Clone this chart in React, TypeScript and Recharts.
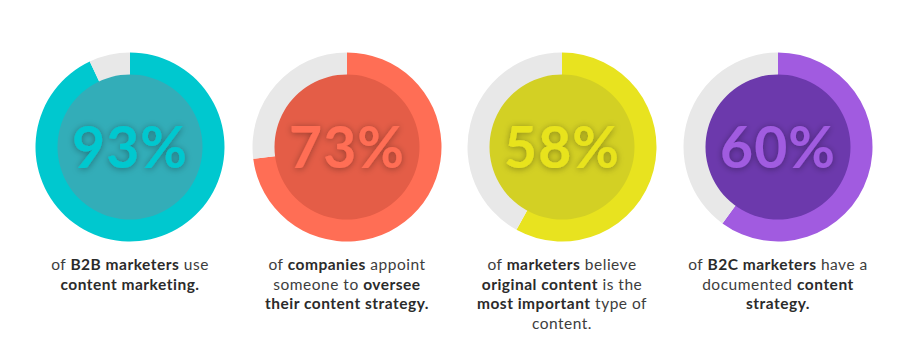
import React from "react";
import { PieChart, Pie, Cell } from "recharts";

const WIDTH = 916;
const HEIGHT = 352;

const percents = [93, 73, 58, 60];
const ringColors = ["#00C8CF", "#FF6E55", "#E8E31F", "#A15BE0"];
const discColors = ["#33ADB8", "#E45D47", "#D3D024", "#6C39AC"];
const restColor = "#E8E8E8";
const centersX = [130, 347, 562, 778];
const centerY = 147;

// caption lines: [text, bold]
const captions: [string, boolean][][][] = [
  [
    [["of ", false], ["B2B marketers", true], [" use", false]],
    [["content marketing.", true]],
  ],
  [
    [["of ", false], ["companies", true], [" appoint", false]],
    [["someone to ", false], ["oversee", true]],
    [["their content strategy.", true]],
  ],
  [
    [["of ", false], ["marketers", true], [" believe", false]],
    [["original content", true], [" is the", false]],
    [["most important", true], [" type of", false]],
    [["content.", false]],
  ],
  [
    [["of ", false], ["B2C marketers", true], [" have a", false]],
    [["documented ", false], ["content", true]],
    [["strategy.", true]],
  ],
];

export default function App() {
  return (
    <div
      style={{
        position: "absolute",
        left: 0,
        top: 0,
        width: WIDTH,
        height: HEIGHT,
        background: "#fff",
        fontFamily: "Lato, 'Open Sans', sans-serif",
      }}
    >
      <div style={{ position: "absolute", left: 0, top: 0 }}>
        <PieChart width={WIDTH} height={250} margin={{ top: 0, right: 0, bottom: 0, left: 0 }}>
          {percents.map((p, i) => (
            <Pie
              key={`ring-${i}`}
              data={[{ v: p }, { v: 100 - p }]}
              dataKey="v"
              cx={centersX[i]}
              cy={centerY}
              innerRadius={71}
              outerRadius={94.5}
              startAngle={90}
              endAngle={-270}
              stroke="none"
              isAnimationActive={false}
            >
              <Cell fill={ringColors[i]} />
              <Cell fill={restColor} />
            </Pie>
          ))}
          {percents.map((p, i) => (
            <Pie
              key={`disc-${i}`}
              data={[{ v: 1 }]}
              dataKey="v"
              cx={centersX[i]}
              cy={centerY}
              innerRadius={0}
              outerRadius={72.5}
              stroke="none"
              fill={discColors[i]}
              isAnimationActive={false}
            />
          ))}
        </PieChart>
      </div>
      {/* big percentage numbers on top of the discs */}
      <svg
        width={WIDTH}
        height={250}
        style={{ position: "absolute", left: 0, top: 0, pointerEvents: "none" }}
      >
        <defs>
          <filter id="numShadow" x="-20%" y="-30%" width="140%" height="160%">
            <feDropShadow dx="0" dy="1" stdDeviation="3.5" floodColor="#000" floodOpacity="0.35" />
          </filter>
        </defs>
        {percents.map((p, i) => (
          <text
            key={`num-${i}`}
            x={centersX[i]}
            y={centerY + 21}
            textAnchor="middle"
            fill={ringColors[i]}
            fontSize={57}
            fontWeight={700}
            fontFamily="Lato, sans-serif"
            letterSpacing={1}
            filter="url(#numShadow)"
          >
            {p}%
          </text>
        ))}
      </svg>
      {captions.map((lines, i) => (
        <div
          key={`cap-${i}`}
          style={{
            position: "absolute",
            left: centersX[i] - 110,
            top: 255,
            width: 220,
            textAlign: "center",
            fontSize: 15.5,
            lineHeight: "19.5px",
            color: "#3d3d3d",
            letterSpacing: 0.5,
          }}
        >
          {lines.map((line, j) => (
            <div key={j}>
              {line.map(([t, b], k) => (
                <span key={k} style={{ fontWeight: b ? 700 : 400, color: b ? "#2b2b2b" : "#3d3d3d" }}>
                  {t}
                </span>
              ))}
            </div>
          ))}
        </div>
      ))}
    </div>
  );
}
